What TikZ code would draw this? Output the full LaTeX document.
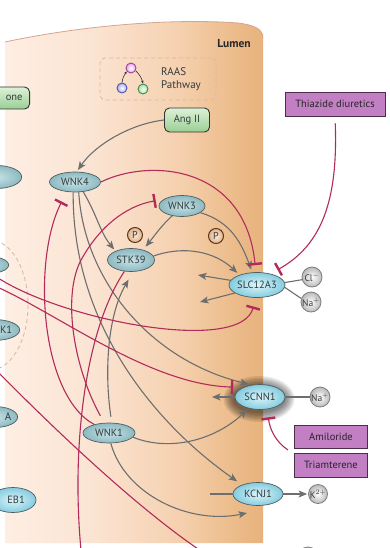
\documentclass[tikz,border=0pt]{standalone}
\usepackage{fontspec}
\setmainfont{PT Sans}
\usetikzlibrary{arrows.meta,shapes.geometric,calc}
\definecolor{cellA}{HTML}{FDEEE3}
\definecolor{cellB}{HTML}{FBE3D1}
\definecolor{cellC}{HTML}{F5D0AE}
\definecolor{cellD}{HTML}{EDBE8F}
\definecolor{cellE}{HTML}{E7B27C}
\definecolor{celledge}{HTML}{D6A48C}
\definecolor{garr}{HTML}{6E6E6E}
\definecolor{rinh}{HTML}{B22B5B}
\definecolor{txt}{HTML}{333B3D}
\definecolor{kinIn}{HTML}{C6E3E7}
\definecolor{kinOut}{HTML}{8DB9C0}
\definecolor{kinEdge}{HTML}{4F5E62}
\definecolor{chIn}{HTML}{DDF5FA}
\definecolor{chOut}{HTML}{84CCDF}
\definecolor{ionOut}{HTML}{B9B9B9}
\definecolor{ionEdge}{HTML}{7E7E7E}
\definecolor{phIn}{HTML}{FCE9D6}
\definecolor{phOut}{HTML}{E2B287}
\definecolor{phEdge}{HTML}{5A3820}
\definecolor{drugFill}{HTML}{C37FC4}
\definecolor{drugEdge}{HTML}{4A2E4A}
\definecolor{grTop}{HTML}{DDF1D6}
\definecolor{grBot}{HTML}{9ACF95}
\definecolor{dashc}{HTML}{D9B79C}
\definecolor{rpink}{HTML}{E9A6E4}
\definecolor{rpinkE}{HTML}{A23E9E}
\definecolor{rblue}{HTML}{A7AEEA}
\definecolor{rblueE}{HTML}{4E56AE}
\definecolor{rgreen}{HTML}{A6DBA4}
\definecolor{rgreenE}{HTML}{3F8F48}
\pgfdeclarehorizontalshading{cellshade}{100bp}{color(0bp)=(cellA); color(25bp)=(cellA); color(43bp)=(cellB); color(59bp)=(cellC); color(68bp)=(cellD); color(75bp)=(cellE); color(100bp)=(cellE)}
\begin{document}
\begin{tikzpicture}[x=1pt,y=-1pt,
  kin/.style={ellipse, draw=kinEdge, line width=0.7pt, inner color=kinIn, outer color=kinOut,
    minimum width=50pt, minimum height=21pt, inner sep=0pt, text=txt, font=\fontsize{10.5}{10.5}\selectfont},
  chan/.style={kin, inner color=chIn, outer color=chOut},
  ion/.style={circle, draw=ionEdge, line width=0.8pt, inner color=white, outer color=ionOut,
    minimum size=20pt, inner sep=0pt, text=txt, font=\fontsize{9.5}{9.5}\selectfont},
  phos/.style={circle, draw=phEdge, line width=1pt, inner color=phIn, outer color=phOut,
    minimum size=15pt, inner sep=0pt, text=txt, font=\fontsize{10}{10}\selectfont},
  drug/.style={rectangle, draw=drugEdge, line width=0.9pt, fill=drugFill, text=black!85,
    inner sep=0pt, font=\fontsize{10.5}{10.5}\selectfont},
  grn/.style={rectangle, rounded corners=5pt, draw=black!80, line width=0.9pt, top color=grTop,
    bottom color=grBot, minimum height=22pt, inner xsep=7pt, text=txt, font=\fontsize{10.5}{10.5}\selectfont},
  rdot/.style={circle, minimum size=10pt, inner sep=0pt, line width=0.9pt},
  lbl/.style={text=txt, font=\fontsize{11}{12.5}\selectfont, inner sep=0pt},
  gl/.style={draw=garr, line width=1.1pt},
  ga/.style={gl, -{Stealth[length=8.5pt, width=7pt, inset=2pt]}, shorten >=2pt},
  inh/.style={draw=rinh, line width=1.1pt, -{Bar[width=14pt, line width=2.4pt]}},
  rl/.style={draw=rinh, line width=1.1pt}]
\useasboundingbox (0,0) rectangle (390,548);
\clip (0,0) rectangle (390,548);
\fill[white] (0,0) rectangle (390,548);
% cell
\shade[shading=cellshade] (5,543) -- (5,42) .. controls (80,26) and (170,18) .. (238,23)
   .. controls (254,25) and (263,29) .. (263,38) -- (263,543) -- cycle;
\draw[celledge, line width=0.8pt] (5,42) .. controls (80,26) and (170,18) .. (238,23)
   .. controls (254,25) and (263,29) .. (263,38);
\draw[dashc, dashed, dash pattern=on 4pt off 3pt, line width=0.8pt] (-10,305) ellipse [x radius=38, y radius=65];
% RAAS box
\node[draw=dashc, dashed, dash pattern=on 4pt off 3pt, line width=0.8pt, rounded corners=5pt,
  minimum width=116pt, minimum height=42pt] (raas) at (158,79) {};
\node[rdot, draw=rpinkE, inner color=white, outer color=rpink] (rp) at (131,68) {};
\node[rdot, draw=rblueE, inner color=white, outer color=rblue] (rb) at (122,88) {};
\node[rdot, draw=rgreenE, inner color=white, outer color=rgreen] (rg) at (143,89) {};
\draw[black!80, line width=0.6pt, -{Stealth[length=3pt,width=2.5pt]}] (rb.north) to[bend left=15] (rp.220);
\draw[black!80, line width=0.6pt, -{Stealth[length=3pt,width=2.5pt]}] (rp.-30) to[bend left=15] (rg.north);
\node[lbl, anchor=west, align=left] (raastxt) at (161,79) {RAAS\\Pathway};
\node[font=\fontsize{11.5}{11.5}\selectfont\bfseries, text=black!85] (lumen) at (234,44) {Lumen};
% partial nodes at the left
\node[grn, anchor=east] (aldo) at (30,98) {\hspace*{26pt}one};
\node[kin, anchor=east, minimum width=50pt, minimum height=23pt] (lp1) at (22,177) {};
\node[kin, anchor=east, minimum width=46pt, minimum height=18pt] (lp2) at (9,265) {};
\node[kin, anchor=east, minimum width=46pt] (sgk) at (20,330) {\hspace*{24pt}K1};
\node[kin, anchor=east, minimum width=46pt] (lpa) at (18,417) {};
\node[lbl] (alab) at (8,417) {A};
\node[chan, minimum width=46pt, minimum height=25pt] (eb1) at (13,500) {\hspace*{6pt}EB1};
% main nodes
\node[grn, minimum width=45pt, minimum height=24pt] (ang) at (187,120) {Ang II};
\node[drug, minimum width=100pt, minimum height=24pt] (thia) at (335,104) {Thiazide diuretics};
\node[drug, minimum width=73pt, minimum height=23pt] (amil) at (331,437) {Amiloride};
\node[drug, minimum width=73pt, minimum height=24pt] (triam) at (331,465) {Triamterene};
\node[kin, minimum width=51pt, minimum height=20pt] (wnk4) at (75,182) {WNK4};
\node[kin, minimum width=46pt, minimum height=21pt] (wnk3) at (182,206) {WNK3};
\node[kin, minimum width=47pt, minimum height=23pt] (stk) at (131,260) {STK39};
\node[kin, minimum width=52pt, minimum height=20pt] (wnk1) at (109,433) {WNK1};
\node[phos] (p1) at (135,235) {P};
\node[phos] (p2) at (216,236) {P};
\node[chan, minimum width=50pt, minimum height=25pt] (slc) at (257,285) {SLC12A3};
\foreach \k in {1,...,7}{
  \fill[black, opacity=0.085] (259,399) ellipse [x radius={25+1.5*\k}, y radius={12.5+1.5*\k}];
}
\node[chan, minimum width=50pt, minimum height=25pt] (scnn) at (260,397) {SCNN1};
\node[chan, minimum width=50pt, minimum height=23pt] (kcnj) at (258,494) {KCNJ1};
\node[ion] (cl) at (312,277) {Cl$^{-}$};
\node[ion] (na1) at (311,302) {Na$^{+}$};
\node[ion] (na2) at (320,397) {Na$^{+}$};
\node[ion, minimum size=19pt] (kion) at (318,494) {K$^{2+}$};
\node[ion] (ionb) at (308,557) {};
% free ends
\coordinate (o1) at (198,275);
\coordinate (o2) at (200,302);
\coordinate (o3) at (212,397);
\coordinate (o4) at (247,513);
\coordinate (o5) at (210,494);
\coordinate (o6) at (82,560);
\coordinate (o7) at (-5,276);
\coordinate (o8) at (-5,286);
\coordinate (o9) at (-2,372);
\coordinate (o10) at (215,560);
\coordinate (o11) at (288,450);
% gray activating connectors
\draw[ga] (ang.west) .. controls (130,124) and (95,145) .. (wnk4.80);
\draw[ga] (wnk4.-50) .. controls (97,215) and (100,232) .. (stk.150);
\draw[ga, shorten >=3pt] (wnk4.-70) .. controls (84,280) and (150,360) .. (scnn.125);
\draw[ga, shorten >=6pt] (wnk4.-100) .. controls (72,320) and (150,420) .. (kcnj.150);
\draw[ga, shorten >=4pt] (wnk3.-135) .. controls (162,225) and (155,235) .. (stk.40);
\draw[ga, shorten >=3pt] (wnk3.-20) .. controls (232,222) and (242,245) .. (slc.110);
\draw[ga, shorten >=3pt] (stk.10) .. controls (185,245) and (215,252) .. (slc.150);
\draw[ga, shorten >=0pt] (slc.170) -- (o1);
\draw[ga, shorten >=0pt] (slc.-160) -- (o2);
\draw[gl] (cl.195) -- (slc.5);
\draw[gl] (na1.160) -- (slc.-5);
\draw[ga, shorten >=0pt] (scnn.west) -- (o3);
\draw[gl] (na2.west) -- (scnn.east);
\draw[ga, shorten >=2pt] (wnk1.-10) .. controls (170,452) and (215,440) .. (scnn.-135);
\draw[ga, shorten >=0pt] (wnk1.-80) .. controls (125,495) and (190,525) .. (o4);
\draw[ga, shorten <=6pt, shorten >=9pt] (wnk1.75) .. controls (104,370) and (108,315) .. (stk.-80);
\draw[gl] (o5) -- (kcnj.west);
\draw[ga, shorten >=1pt] (kcnj.east) -- (kion.west);
% red inhibiting connectors
\draw[inh, shorten >=7pt] (wnk4.0) .. controls (150,158) and (245,165) .. (slc.95);
\draw[inh, shorten <=7pt, shorten >=8pt] (thia.south) .. controls (338,200) and (322,245) .. (slc.40);
\draw[inh, shorten <=8pt, shorten >=8pt] (wnk1.115) .. controls (75,370) and (62,300) .. (80,262)
   .. controls (98,228) and (125,206) .. (wnk3.160);
\draw[inh, shorten >=11pt] (wnk1.150) .. controls (40,395) and (32,260) .. (wnk4.-130);
\draw[rl] (stk.-120) .. controls (85,330) and (70,450) .. (o6);
\draw[inh, shorten >=9pt] (o7) .. controls (60,320) and (240,355) .. (slc.-95);
\draw[inh, shorten >=10pt] (o8) .. controls (60,315) and (150,385) .. (scnn.150);
\draw[rl] (o9) .. controls (60,435) and (150,520) .. (o10);
\draw[inh, shorten >=8pt] (o11) .. controls (276,442) and (270,430) .. (scnn.-60);
\end{tikzpicture}
\end{document}
